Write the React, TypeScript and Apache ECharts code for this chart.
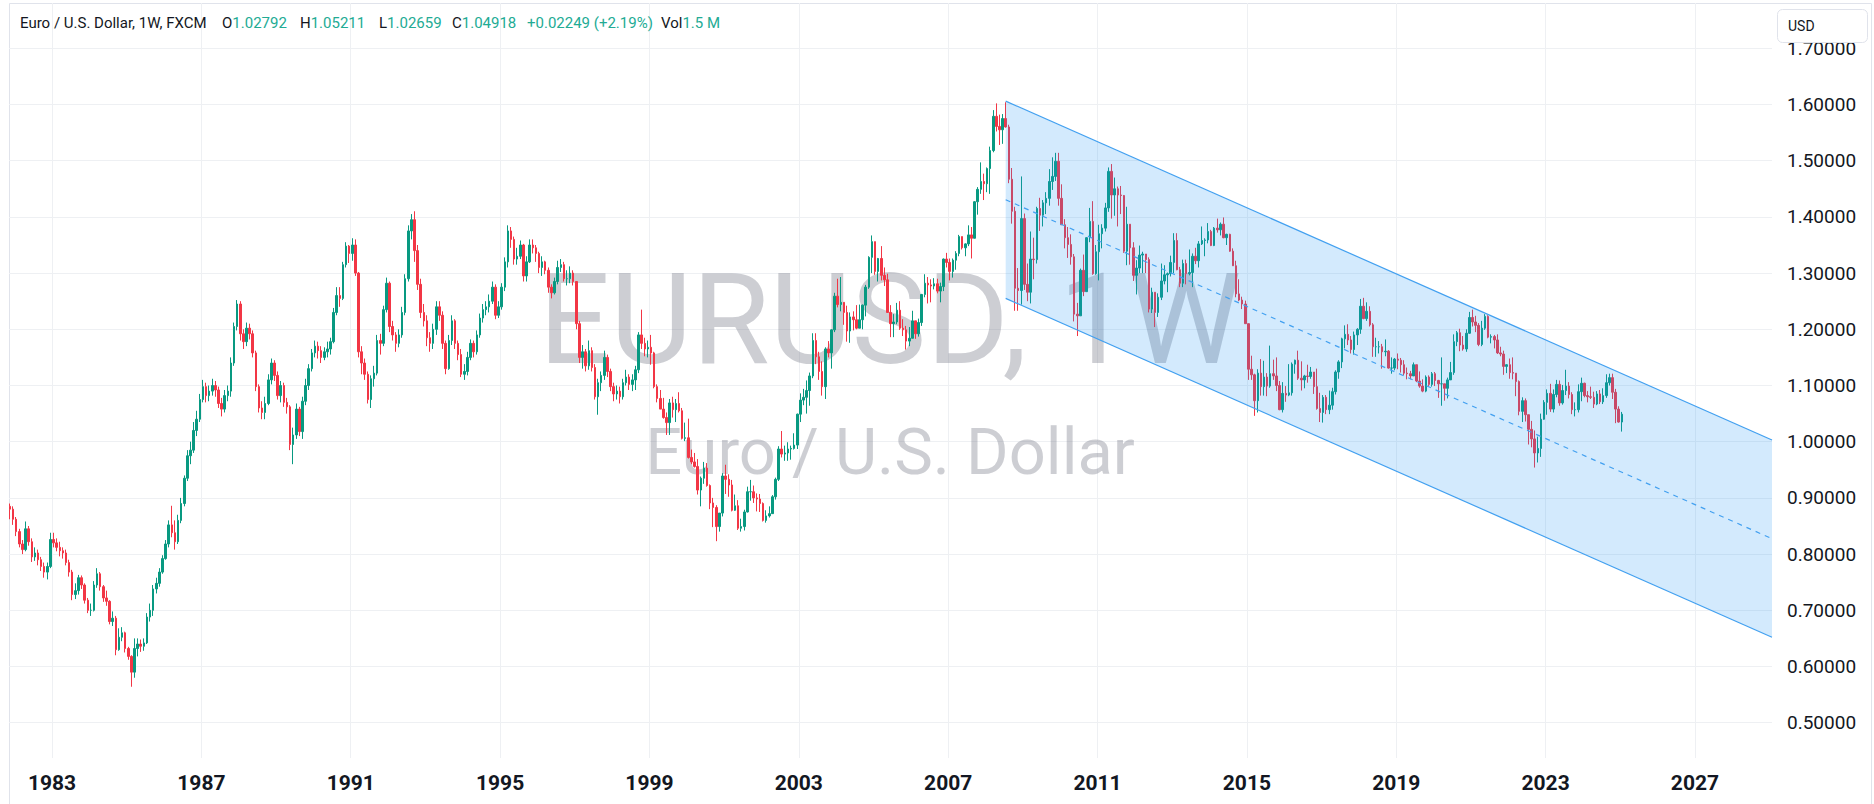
import React, { useEffect, useRef } from "react";
import * as echarts from "echarts";

// Monthly bars, first bar = November 1981
const startYear = 1981;
const startMonth = 10; // 0-based
const firstOpen = 0.885;

const closes = [
  0.880, 0.862,
  0.840, 0.818, 0.808, 0.845, 0.822, 0.795, 0.802, 0.790, 0.778, 0.768, 0.778, 0.826,
  0.820, 0.812, 0.806, 0.802, 0.785, 0.768, 0.728, 0.735, 0.758, 0.745, 0.718, 0.700,
  0.700, 0.745, 0.765, 0.742, 0.722, 0.716, 0.680, 0.686, 0.630, 0.652, 0.660, 0.632,
  0.618, 0.590, 0.632, 0.640, 0.636, 0.642, 0.688, 0.700, 0.738, 0.748, 0.768, 0.792,
  0.818, 0.852, 0.838, 0.822, 0.860, 0.890, 0.935, 0.975, 0.985, 1.020, 1.040, 1.075,
  1.098, 1.082, 1.090, 1.100, 1.092, 1.068, 1.058, 1.082, 1.090, 1.140, 1.205, 1.245,
  1.192, 1.178, 1.202, 1.192, 1.158, 1.098, 1.060, 1.052, 1.068, 1.110, 1.140, 1.118,
  1.082, 1.100, 1.070, 1.062, 0.995, 1.012, 1.058, 1.018, 1.072, 1.100, 1.130, 1.158,
  1.170, 1.162, 1.150, 1.160, 1.165, 1.178, 1.230, 1.260, 1.255, 1.315, 1.348, 1.335,
  1.350, 1.300, 1.160, 1.140, 1.120, 1.075, 1.112, 1.122, 1.180, 1.175, 1.235, 1.282,
  1.205, 1.190, 1.175, 1.190, 1.230, 1.290, 1.375, 1.395, 1.340, 1.280, 1.230, 1.215,
  1.185, 1.175, 1.200, 1.240, 1.225, 1.175, 1.130, 1.180, 1.215, 1.175, 1.155, 1.120,
  1.125, 1.150, 1.175, 1.160, 1.190, 1.220, 1.235, 1.240, 1.250, 1.275, 1.225, 1.240,
  1.275, 1.320, 1.375, 1.360, 1.325, 1.330, 1.350, 1.295, 1.320, 1.350, 1.345, 1.335,
  1.310, 1.320, 1.305, 1.275, 1.265, 1.285, 1.310, 1.315, 1.290, 1.290, 1.300, 1.285,
  1.210, 1.150, 1.160, 1.135, 1.162, 1.132, 1.080, 1.105, 1.118, 1.150, 1.125, 1.098,
  1.085, 1.090, 1.080, 1.105, 1.115, 1.102, 1.110, 1.128, 1.190, 1.175, 1.165, 1.168,
  1.158, 1.098, 1.077, 1.058, 1.043, 1.034, 1.069, 1.057, 1.068, 1.055, 1.006, 1.007,
  0.972, 0.964, 0.956, 0.914, 0.935, 0.953, 0.922, 0.891, 0.883, 0.849, 0.873, 0.939,
  0.933, 0.923, 0.878, 0.886, 0.846, 0.849, 0.875, 0.911, 0.911, 0.900, 0.898, 0.890,
  0.860, 0.868, 0.872, 0.902, 0.933, 0.987, 0.978, 0.980, 0.987, 0.988, 0.994, 1.049,
  1.074, 1.079, 1.091, 1.117, 1.180, 1.151, 1.125, 1.098, 1.165, 1.158, 1.199, 1.259,
  1.244, 1.248, 1.230, 1.197, 1.222, 1.217, 1.202, 1.217, 1.243, 1.275, 1.328, 1.356,
  1.303, 1.326, 1.296, 1.288, 1.230, 1.210, 1.213, 1.234, 1.202, 1.199, 1.179, 1.184,
  1.215, 1.192, 1.212, 1.262, 1.282, 1.279, 1.277, 1.281, 1.268, 1.276, 1.325, 1.319,
  1.303, 1.323, 1.335, 1.365, 1.345, 1.352, 1.368, 1.362, 1.427, 1.449, 1.463, 1.459,
  1.486, 1.518, 1.579, 1.561, 1.555, 1.575, 1.560, 1.467, 1.410, 1.273, 1.269, 1.397,
  1.280, 1.266, 1.325, 1.324, 1.415, 1.403, 1.425, 1.433, 1.463, 1.472, 1.499, 1.433,
  1.386, 1.363, 1.351, 1.329, 1.227, 1.224, 1.305, 1.267, 1.363, 1.392, 1.299, 1.338,
  1.370, 1.380, 1.416, 1.481, 1.439, 1.450, 1.439, 1.438, 1.339, 1.387, 1.345, 1.296,
  1.309, 1.332, 1.334, 1.324, 1.236, 1.266, 1.230, 1.257, 1.286, 1.297, 1.299, 1.319,
  1.358, 1.306, 1.282, 1.317, 1.299, 1.301, 1.330, 1.322, 1.352, 1.358, 1.359, 1.374,
  1.349, 1.380, 1.377, 1.387, 1.363, 1.369, 1.339, 1.313, 1.263, 1.252, 1.245, 1.210,
  1.129, 1.119, 1.073, 1.122, 1.098, 1.115, 1.099, 1.121, 1.117, 1.100, 1.057, 1.086,
  1.083, 1.087, 1.138, 1.145, 1.113, 1.110, 1.117, 1.116, 1.124, 1.098, 1.059, 1.052,
  1.079, 1.057, 1.065, 1.089, 1.124, 1.142, 1.183, 1.191, 1.181, 1.164, 1.190, 1.200,
  1.241, 1.219, 1.232, 1.208, 1.169, 1.169, 1.169, 1.160, 1.161, 1.131, 1.131, 1.147,
  1.145, 1.137, 1.122, 1.121, 1.117, 1.137, 1.108, 1.099, 1.090, 1.115, 1.102, 1.121,
  1.109, 1.103, 1.103, 1.095, 1.110, 1.123, 1.178, 1.194, 1.172, 1.165, 1.193, 1.221,
  1.213, 1.207, 1.173, 1.202, 1.223, 1.186, 1.187, 1.181, 1.158, 1.156, 1.134, 1.137,
  1.123, 1.122, 1.107, 1.054, 1.073, 1.048, 1.022, 1.005, 0.980, 0.988, 1.040, 1.070,
  1.086, 1.058, 1.084, 1.102, 1.069, 1.091, 1.099, 1.084, 1.057, 1.057, 1.089, 1.104,
  1.082, 1.080, 1.079, 1.067, 1.085, 1.071, 1.082, 1.105, 1.114, 1.088, 1.058, 1.035,
  1.049,
];

const highs = [
  0.890, 0.885,
  0.866, 0.845, 0.825, 0.858, 0.850, 0.828, 0.812, 0.808, 0.795, 0.785, 0.785, 0.838,
  0.838, 0.828, 0.822, 0.812, 0.808, 0.790, 0.772, 0.748, 0.763, 0.762, 0.748, 0.722,
  0.712, 0.752, 0.775, 0.768, 0.745, 0.735, 0.718, 0.698, 0.690, 0.668, 0.670, 0.662,
  0.635, 0.620, 0.650, 0.650, 0.648, 0.650, 0.695, 0.712, 0.745, 0.758, 0.775, 0.798,
  0.825, 0.860, 0.886, 0.860, 0.870, 0.900, 0.940, 0.985, 1.000, 1.035, 1.055, 1.085,
  1.110, 1.105, 1.100, 1.112, 1.108, 1.098, 1.078, 1.092, 1.100, 1.150, 1.212, 1.252,
  1.250, 1.200, 1.212, 1.210, 1.198, 1.162, 1.102, 1.072, 1.080, 1.120, 1.148, 1.145,
  1.125, 1.108, 1.105, 1.078, 1.065, 1.025, 1.068, 1.062, 1.080, 1.112, 1.138, 1.165,
  1.180, 1.178, 1.170, 1.168, 1.178, 1.185, 1.238, 1.275, 1.275, 1.320, 1.355, 1.350,
  1.362, 1.360, 1.302, 1.170, 1.148, 1.125, 1.118, 1.135, 1.190, 1.192, 1.242, 1.292,
  1.285, 1.215, 1.195, 1.200, 1.240, 1.298, 1.385, 1.405, 1.410, 1.350, 1.290, 1.245,
  1.225, 1.195, 1.210, 1.250, 1.250, 1.232, 1.180, 1.190, 1.225, 1.218, 1.180, 1.165,
  1.138, 1.160, 1.182, 1.180, 1.198, 1.228, 1.245, 1.250, 1.262, 1.285, 1.280, 1.250,
  1.282, 1.328, 1.385, 1.382, 1.365, 1.345, 1.358, 1.352, 1.330, 1.360, 1.360, 1.350,
  1.338, 1.330, 1.322, 1.310, 1.280, 1.292, 1.322, 1.325, 1.320, 1.305, 1.312, 1.305,
  1.285, 1.215, 1.172, 1.165, 1.180, 1.168, 1.138, 1.112, 1.125, 1.162, 1.155, 1.130,
  1.105, 1.100, 1.098, 1.112, 1.128, 1.120, 1.120, 1.135, 1.195, 1.235, 1.185, 1.180,
  1.190, 1.160, 1.102, 1.092, 1.078, 1.052, 1.076, 1.080, 1.076, 1.088, 1.060, 1.034,
  1.041, 0.986, 0.980, 0.969, 0.938, 0.964, 0.962, 0.924, 0.900, 0.887, 0.873, 0.944,
  0.959, 0.942, 0.932, 0.906, 0.896, 0.863, 0.879, 0.920, 0.932, 0.922, 0.908, 0.907,
  0.892, 0.878, 0.885, 0.905, 0.936, 0.992, 1.019, 0.993, 0.999, 0.993, 1.015, 1.050,
  1.086, 1.094, 1.109, 1.123, 1.193, 1.193, 1.160, 1.143, 1.168, 1.179, 1.200, 1.265,
  1.290, 1.293, 1.248, 1.242, 1.230, 1.232, 1.243, 1.244, 1.244, 1.279, 1.330, 1.367,
  1.355, 1.327, 1.348, 1.310, 1.299, 1.243, 1.227, 1.247, 1.250, 1.218, 1.206, 1.204,
  1.233, 1.214, 1.219, 1.263, 1.298, 1.293, 1.289, 1.291, 1.290, 1.283, 1.326, 1.336,
  1.326, 1.326, 1.339, 1.368, 1.365, 1.353, 1.385, 1.382, 1.428, 1.453, 1.497, 1.477,
  1.488, 1.525, 1.590, 1.602, 1.582, 1.583, 1.604, 1.564, 1.487, 1.418, 1.309, 1.472,
  1.406, 1.317, 1.374, 1.363, 1.418, 1.434, 1.430, 1.444, 1.485, 1.506, 1.514, 1.514,
  1.458, 1.396, 1.382, 1.369, 1.334, 1.247, 1.308, 1.333, 1.364, 1.416, 1.428, 1.350,
  1.386, 1.387, 1.425, 1.488, 1.494, 1.470, 1.454, 1.455, 1.439, 1.418, 1.387, 1.355,
  1.323, 1.349, 1.338, 1.329, 1.328, 1.274, 1.266, 1.264, 1.317, 1.314, 1.301, 1.331,
  1.371, 1.371, 1.311, 1.324, 1.324, 1.342, 1.335, 1.345, 1.357, 1.383, 1.362, 1.389,
  1.377, 1.382, 1.397, 1.390, 1.399, 1.370, 1.370, 1.344, 1.322, 1.289, 1.258, 1.251,
  1.209, 1.153, 1.121, 1.129, 1.147, 1.144, 1.122, 1.171, 1.146, 1.150, 1.108, 1.106,
  1.099, 1.138, 1.141, 1.146, 1.162, 1.143, 1.119, 1.137, 1.133, 1.124, 1.130, 1.087,
  1.083, 1.083, 1.091, 1.096, 1.127, 1.145, 1.185, 1.207, 1.209, 1.188, 1.196, 1.202,
  1.254, 1.256, 1.248, 1.241, 1.211, 1.185, 1.179, 1.174, 1.182, 1.163, 1.150, 1.149,
  1.157, 1.149, 1.145, 1.132, 1.126, 1.141, 1.129, 1.125, 1.111, 1.118, 1.118, 1.124,
  1.124, 1.110, 1.150, 1.100, 1.114, 1.142, 1.191, 1.197, 1.201, 1.188, 1.200, 1.231,
  1.235, 1.224, 1.211, 1.215, 1.227, 1.225, 1.191, 1.190, 1.191, 1.169, 1.162, 1.138,
  1.148, 1.150, 1.118, 1.109, 1.079, 1.077, 1.028, 1.037, 1.020, 1.009, 1.050, 1.074,
  1.093, 1.103, 1.093, 1.110, 1.109, 1.101, 1.128, 1.106, 1.088, 1.070, 1.102, 1.114,
  1.105, 1.090, 1.098, 1.089, 1.090, 1.092, 1.095, 1.120, 1.121, 1.121, 1.094, 1.063,
  1.053,
];

const lows = [
  0.862, 0.852,
  0.832, 0.812, 0.800, 0.805, 0.815, 0.786, 0.788, 0.780, 0.770, 0.758, 0.755, 0.775,
  0.812, 0.805, 0.796, 0.792, 0.780, 0.760, 0.718, 0.720, 0.728, 0.738, 0.712, 0.695,
  0.690, 0.698, 0.740, 0.735, 0.715, 0.708, 0.675, 0.672, 0.620, 0.628, 0.645, 0.625,
  0.612, 0.564, 0.580, 0.618, 0.626, 0.628, 0.640, 0.680, 0.690, 0.730, 0.742, 0.765,
  0.790, 0.812, 0.830, 0.808, 0.818, 0.855, 0.885, 0.930, 0.960, 0.980, 1.010, 1.035,
  1.070, 1.070, 1.072, 1.082, 1.080, 1.060, 1.045, 1.052, 1.072, 1.080, 1.135, 1.198,
  1.180, 1.165, 1.170, 1.182, 1.150, 1.090, 1.052, 1.040, 1.040, 1.065, 1.102, 1.108,
  1.075, 1.070, 1.062, 1.050, 0.985, 0.960, 1.005, 1.010, 1.005, 1.065, 1.092, 1.125,
  1.150, 1.148, 1.140, 1.145, 1.150, 1.155, 1.175, 1.225, 1.240, 1.252, 1.310, 1.318,
  1.322, 1.295, 1.150, 1.120, 1.110, 1.068, 1.060, 1.098, 1.118, 1.155, 1.170, 1.230,
  1.195, 1.180, 1.160, 1.168, 1.185, 1.225, 1.285, 1.360, 1.320, 1.270, 1.220, 1.205,
  1.170, 1.160, 1.165, 1.190, 1.215, 1.165, 1.120, 1.128, 1.172, 1.165, 1.145, 1.115,
  1.110, 1.118, 1.145, 1.150, 1.155, 1.185, 1.212, 1.225, 1.230, 1.245, 1.218, 1.220,
  1.235, 1.268, 1.310, 1.345, 1.315, 1.315, 1.325, 1.285, 1.285, 1.318, 1.335, 1.320,
  1.300, 1.295, 1.298, 1.265, 1.255, 1.262, 1.280, 1.302, 1.285, 1.278, 1.282, 1.278,
  1.200, 1.140, 1.130, 1.125, 1.128, 1.125, 1.075, 1.048, 1.090, 1.110, 1.115, 1.090,
  1.072, 1.075, 1.068, 1.075, 1.100, 1.092, 1.090, 1.092, 1.122, 1.165, 1.152, 1.150,
  1.137, 1.095, 1.070, 1.058, 1.041, 1.012, 1.012, 1.043, 1.035, 1.052, 1.004, 1.001,
  0.970, 0.960, 0.954, 0.906, 0.885, 0.925, 0.920, 0.880, 0.848, 0.823, 0.840, 0.867,
  0.907, 0.902, 0.876, 0.877, 0.843, 0.840, 0.842, 0.874, 0.895, 0.891, 0.876, 0.875,
  0.858, 0.856, 0.865, 0.874, 0.897, 0.930, 0.972, 0.966, 0.966, 0.968, 0.986, 0.987,
  1.035, 1.065, 1.050, 1.064, 1.113, 1.138, 1.110, 1.082, 1.076, 1.150, 1.130, 1.195,
  1.239, 1.232, 1.208, 1.178, 1.176, 1.198, 1.200, 1.203, 1.200, 1.223, 1.272, 1.300,
  1.297, 1.285, 1.287, 1.277, 1.229, 1.186, 1.186, 1.209, 1.199, 1.188, 1.164, 1.170,
  1.191, 1.183, 1.187, 1.206, 1.257, 1.246, 1.248, 1.271, 1.264, 1.248, 1.268, 1.310,
  1.287, 1.292, 1.306, 1.330, 1.342, 1.330, 1.348, 1.326, 1.362, 1.404, 1.441, 1.430,
  1.444, 1.441, 1.515, 1.552, 1.528, 1.530, 1.559, 1.460, 1.388, 1.233, 1.233, 1.244,
  1.270, 1.250, 1.246, 1.289, 1.317, 1.375, 1.383, 1.405, 1.420, 1.448, 1.464, 1.420,
  1.386, 1.344, 1.327, 1.315, 1.214, 1.188, 1.227, 1.259, 1.270, 1.355, 1.297, 1.297,
  1.287, 1.344, 1.374, 1.409, 1.397, 1.402, 1.383, 1.405, 1.336, 1.314, 1.315, 1.286,
  1.262, 1.300, 1.300, 1.300, 1.230, 1.229, 1.204, 1.222, 1.252, 1.280, 1.266, 1.294,
  1.300, 1.305, 1.275, 1.275, 1.280, 1.296, 1.275, 1.316, 1.310, 1.350, 1.330, 1.353,
  1.348, 1.348, 1.372, 1.367, 1.362, 1.350, 1.338, 1.313, 1.257, 1.250, 1.236, 1.210,
  1.110, 1.110, 1.046, 1.052, 1.082, 1.082, 1.081, 1.096, 1.110, 1.090, 1.056, 1.052,
  1.071, 1.081, 1.082, 1.121, 1.110, 1.091, 1.095, 1.105, 1.112, 1.085, 1.057, 1.035,
  1.034, 1.049, 1.049, 1.057, 1.084, 1.112, 1.131, 1.166, 1.172, 1.157, 1.155, 1.172,
  1.192, 1.218, 1.215, 1.205, 1.151, 1.151, 1.157, 1.130, 1.152, 1.130, 1.121, 1.127,
  1.129, 1.123, 1.118, 1.111, 1.111, 1.118, 1.106, 1.096, 1.088, 1.088, 1.098, 1.098,
  1.099, 1.078, 1.064, 1.073, 1.077, 1.110, 1.119, 1.170, 1.161, 1.162, 1.160, 1.192,
  1.205, 1.195, 1.170, 1.170, 1.199, 1.184, 1.175, 1.166, 1.156, 1.152, 1.119, 1.122,
  1.112, 1.111, 1.081, 1.047, 1.035, 1.036, 0.995, 0.990, 0.954, 0.963, 0.973, 1.039,
  1.048, 1.053, 1.052, 1.079, 1.064, 1.066, 1.083, 1.077, 1.049, 1.045, 1.052, 1.072,
  1.079, 1.070, 1.076, 1.060, 1.065, 1.067, 1.067, 1.078, 1.100, 1.076, 1.033, 1.034,
  1.018,
];

const yearTicks = [1983, 1987, 1991, 1995, 1999, 2003, 2007, 2011, 2015, 2019, 2023, 2027];
const priceTicks = [0.5, 0.6, 0.7, 0.8, 0.9, 1.0, 1.1, 1.2, 1.3, 1.4, 1.5, 1.6, 1.7];

// Parallel channel anchors (time in years, price)
const channelTimes = [2008.54, 2029.063];
const channelUpper = [1.606, 1.003];
const channelMid = [1.4305, 0.8275];
const channelLower = [1.255, 0.652];

const headerTitle = "Euro / U.S. Dollar, 1W, FXCM";
const headerOpen = "1.02792";
const headerHigh = "1.05211";
const headerLow = "1.02659";
const headerClose = "1.04918";
const headerChange = "+0.02249 (+2.19%)";
const headerVol = "1.5 M";

const UP = "#089981";
const DOWN = "#f23645";
const TEXT = "#131722";
const GREEN_TEXT = "#22ab94";
const GRID = "#eef0f3";
const CHANNEL = "#42a0f0";

function buildCandles() {
  const out: number[][] = [];
  let prev = firstOpen;
  for (let i = 0; i < closes.length; i++) {
    const t = startYear + (startMonth + i + 0.5) / 12;
    const o = prev;
    const c = closes[i];
    const h = Math.max(highs[i], o, c);
    const l = Math.min(lows[i], o, c);
    out.push([t, o, c, l, h]);
    prev = c;
  }
  return out;
}

export default function App() {
  const ref = useRef<HTMLDivElement>(null);
  useEffect(() => {
    if (!ref.current) return;
    const chart = echarts.init(ref.current, undefined, { renderer: "svg" });
    const candles = buildCandles();
    const font = "Roboto, 'Noto Sans', sans-serif";
    const rich = {
      d: { fill: TEXT, font: `15px ${font}` },
      g: { fill: GREEN_TEXT, font: `15px ${font}` },
    };
    const hText = (x: number, text: string) => ({
      type: "text",
      x,
      y: 23,
      z: 100,
      silent: true,
      style: { text, rich, font: `15px ${font}`, fill: TEXT, textAlign: "left", textVerticalAlign: "middle" },
    });
    const option: any = {
      animation: false,
      grid: { left: 9, right: 102, top: 3, bottom: 46, containLabel: false },
      xAxis: {
        type: "value",
        min: 1981.848,
        max: 2029.063,
        axisLine: { show: false },
        axisTick: { show: false, customValues: yearTicks },
        axisLabel: {
          customValues: yearTicks,
          formatter: (v: number) => String(Math.round(v)),
          color: TEXT,
          fontFamily: font,
          fontSize: 21,
          fontWeight: "bold",
          margin: 14,
        },
        splitLine: { show: true, lineStyle: { color: GRID, width: 1 } },
      },
      yAxis: {
        type: "value",
        position: "right",
        min: 0.4372,
        max: 1.7806,
        axisLine: { show: false },
        axisTick: { show: false, customValues: priceTicks },
        axisLabel: {
          customValues: priceTicks,
          formatter: (v: number) => v.toFixed(5),
          color: TEXT,
          fontFamily: font,
          fontSize: 19,
          margin: 15,
        },
        splitLine: { show: true, lineStyle: { color: GRID, width: 1 } },
      },
      graphic: [
        {
          type: "rect",
          z: 0,
          silent: true,
          shape: { x: 9.5, y: 3.5, width: 1862, height: 820 },
          style: { fill: "none", stroke: "#e0e3eb", lineWidth: 1 },
        },
        {
          type: "text",
          x: 890,
          y: 320,
          z: 1,
          silent: true,
          style: {
            text: "EURUSD, 1W",
            font: `126px ${font}`,
            fill: "rgba(112,115,128,0.35)",
            textAlign: "center",
            textVerticalAlign: "middle",
          },
        },
        {
          type: "text",
          x: 890,
          y: 452,
          z: 1,
          silent: true,
          style: {
            text: "Euro / U.S. Dollar",
            font: `65px ${font}`,
            fill: "rgba(112,115,128,0.35)",
            textAlign: "center",
            textVerticalAlign: "middle",
          },
        },
        hText(20, headerTitle),
        hText(222, `{d|O}{g|${headerOpen}}`),
        hText(300, `{d|H}{g|${headerHigh}}`),
        hText(379, `{d|L}{g|${headerLow}}`),
        hText(452, `{d|C}{g|${headerClose}}`),
        hText(527, `{g|${headerChange}}`),
        hText(661, `{d|Vol}{g|${headerVol}}`),
        {
          type: "rect",
          z: 100,
          silent: true,
          shape: { x: 1777.5, y: 9.5, width: 90, height: 33, r: 5 },
          style: { fill: "#ffffff", stroke: "#e0e3eb", lineWidth: 1 },
        },
        {
          type: "text",
          x: 1788,
          y: 26,
          z: 101,
          silent: true,
          style: { text: "USD", font: `14px ${font}`, fill: TEXT, textAlign: "left", textVerticalAlign: "middle" },
        },
      ],
      series: [
        {
          type: "candlestick",
          data: candles,
          encode: { x: 0, y: [1, 2, 3, 4] },
          barWidth: 2,
          z: 2,
          itemStyle: {
            color: UP,
            color0: DOWN,
            borderColor: UP,
            borderColor0: DOWN,
            borderWidth: 1,
          },
        },
        {
          type: "custom",
          z: 3,
          silent: true,
          clip: false,
          data: [[channelTimes[0], channelUpper[0]]],
          renderItem: (_params: any, api: any) => {
            const pts = [
              api.coord([channelTimes[0], channelUpper[0]]),
              api.coord([channelTimes[1], channelUpper[1]]),
              api.coord([channelTimes[1], channelLower[1]]),
              api.coord([channelTimes[0], channelLower[0]]),
            ];
            return { type: "polygon", shape: { points: pts }, style: { fill: "rgba(33,150,243,0.2)" } };
          },
        },
        {
          type: "line",
          z: 4,
          silent: true,
          showSymbol: false,
          data: channelTimes.map((t, i) => [t, channelUpper[i]]),
          lineStyle: { color: CHANNEL, width: 1.2 },
        },
        {
          type: "line",
          z: 4,
          silent: true,
          showSymbol: false,
          data: channelTimes.map((t, i) => [t, channelLower[i]]),
          lineStyle: { color: CHANNEL, width: 1.2 },
        },
        {
          type: "line",
          z: 4,
          silent: true,
          showSymbol: false,
          data: channelTimes.map((t, i) => [t, channelMid[i]]),
          lineStyle: { color: CHANNEL, width: 1.2, type: [5, 5] },
        },
      ],
    };
    chart.setOption(option);
    return () => chart.dispose();
  }, []);
  return <div ref={ref} style={{ position: "absolute", left: 0, top: 0, width: 1874, height: 804 }} />;
}
